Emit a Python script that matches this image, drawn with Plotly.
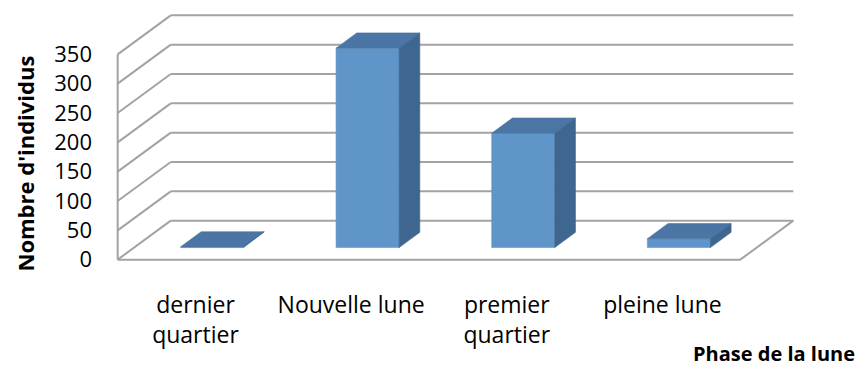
import plotly.graph_objects as go

# ---- data ----
categories = ["dernier<br>quartier", "Nouvelle lune", "premier<br>quartier", "pleine lune"]
values = [1, 340, 195, 15]
y_ticks = [0, 50, 100, 150, 200, 250, 300, 350]
y_title = "Nombre d'individus"
x_title = "Phase de la lune"

# ---- style / geometry ----
W, H = 860, 369
FONT = "Open Sans"
C_FRONT, C_TOP, C_SIDE = "#6095C9", "#4A75A4", "#3F668F"
GRID = "#A3A3A3"
DX, DY = 0.341, 66.5          # oblique depth offset (category units, value units)
F0, F1 = 0.31, 0.70           # bar depth span (fraction of floor depth)
HW = 0.2025                   # bar half width
YMAX = y_ticks[-1]
n = len(categories)

SX, SY = 155.5, 0.5882        # px per unit
x0_px, y0_px = 118, 260       # front-left floor corner in px
xr = [-0.5 - 0.03, n - 0.5 + DX + 0.03]
yr = [-4, YMAX + DY + 4]
ml = x0_px - (-0.5 - xr[0]) * SX
pw = (xr[1] - xr[0]) * SX
mr = W - ml - pw
bottom_px = y0_px + (0 - yr[0]) * SY
mb = H - bottom_px
ph = (yr[1] - yr[0]) * SY
mt = H - mb - ph

fig = go.Figure()

def line(xs, ys):
    fig.add_trace(go.Scatter(x=xs, y=ys, mode="lines", line=dict(color=GRID, width=2),
                             hoverinfo="skip", showlegend=False))

xl, xrgt = -0.5, n - 0.5
# back wall gridlines
for v in y_ticks:
    line([xl + DX, xrgt + DX], [v + DY, v + DY])
# left wall diagonals
for v in y_ticks:
    line([xl, xl + DX], [v, v + DY])
# front left vertical
line([xl, xl], [0, YMAX])
# floor front and right edges
line([xl, xrgt, xrgt + DX], [0, 0, DY])

def poly(xs, ys, color):
    fig.add_trace(go.Scatter(x=xs + [xs[0]], y=ys + [ys[0]], mode="lines", fill="toself",
                             fillcolor=color, line=dict(color=color, width=0.6),
                             hoverinfo="skip", showlegend=False))

for i, v in enumerate(values):
    xa, xb = i - HW + F0 * DX, i + HW + F0 * DX
    xc, xd = i - HW + F1 * DX, i + HW + F1 * DX
    ya, yb = F0 * DY, F1 * DY
    poly([xa, xb, xb, xa], [ya, ya, ya + v, ya + v], C_FRONT)
    poly([xa, xb, xd, xc], [ya + v, ya + v, yb + v, yb + v], C_TOP)
    poly([xb, xd, xd, xb], [ya + v, yb + v, yb, ya], C_SIDE)

def ann(text, px, py, size, angle=0, xanchor="center"):
    fig.add_annotation(text=text, xref="paper", yref="paper",
                       x=(px - ml) / pw, y=(bottom_px - py) / ph,
                       showarrow=False, textangle=angle, xanchor=xanchor, yanchor="middle",
                       borderpad=0,
                       font=dict(family=FONT, size=size, color="black", weight="bold"))

ann(y_title, 25, 164, 22, angle=-90)
ann(x_title, 856, 354, 20, xanchor="right")

fig.update_layout(
    width=W, height=H,
    margin=dict(l=ml, r=mr, t=mt, b=mb, pad=0),
    paper_bgcolor="white", plot_bgcolor="white",
    showlegend=False,
    xaxis=dict(range=xr, tickvals=list(range(n)), ticktext=categories,
               showgrid=False, zeroline=False, showline=False, ticks="",
               ticklabelstandoff=27,
               tickfont=dict(family=FONT, size=23, color="black"), fixedrange=True),
    yaxis=dict(range=yr, tickvals=y_ticks, showgrid=False, zeroline=False, showline=False,
               ticks="", ticklabelstandoff=20,
               tickfont=dict(family=FONT, size=22, color="black"), fixedrange=True),
)

fig.write_html("out.html")
